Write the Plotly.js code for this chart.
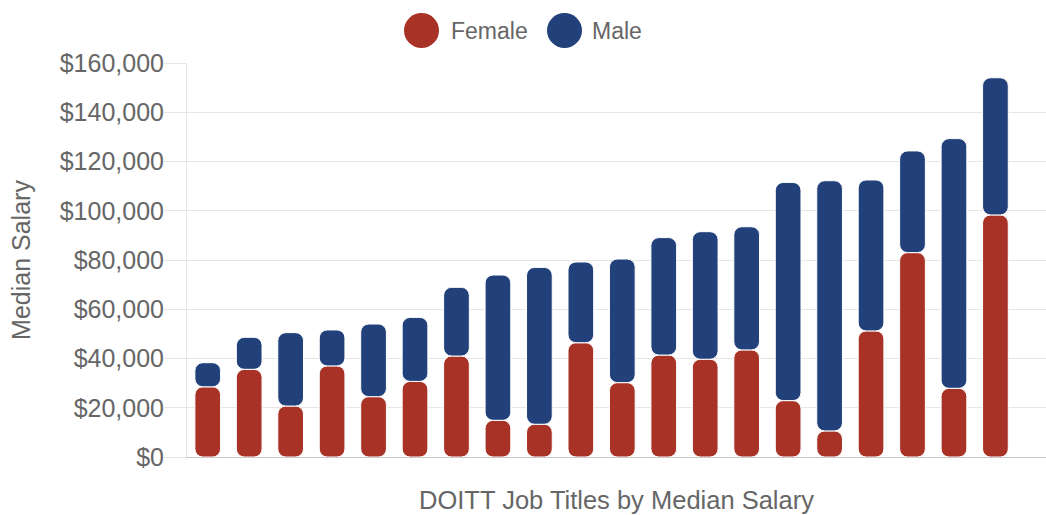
<!DOCTYPE html>
<html>
<head>
<meta charset="utf-8">
<script src="https://cdn.plot.ly/plotly-3.0.1.min.js"></script>
<style>
  html, body { margin: 0; padding: 0; background: #fff; }
  #chart { width: 1046px; height: 515px; }
</style>
</head>
<body>
<div id="chart"></div>
<script>
// Job title positions (titles are not shown on the chart)
const categories = [1, 2, 3, 4, 5, 6, 7, 8, 9, 10, 11, 12, 13, 14, 15, 16, 17, 18, 19, 20];
// Female segment (bottom of each stacked column)
const female = [28500, 35600, 20700, 37000, 24500, 30700, 41000, 14900, 13300, 46400,
                30200, 41400, 39700, 43500, 22900, 10600, 51200, 83000, 27900, 98300];
// Top of each stacked column (female + male segment)
const stackTop = [38300, 48600, 50500, 51600, 54000, 56700, 68900, 73900, 77000, 79200,
                  80400, 89100, 91500, 93500, 111500, 112200, 112500, 124300, 129300, 154000];
// Male segment = top - female
const male = stackTop.map((t, i) => t - female[i]);

const seriesNames = ['Female', 'Male'];
const seriesColors = ['#A83226', '#22417A'];
const yTicks = [0, 20000, 40000, 60000, 80000, 100000, 120000, 140000, 160000];

const FONT = '"Liberation Sans", Arial, Helvetica, sans-serif';
const GREY = '#666666';
const BAR_W = 0.62;
const RADIUS = 8;

function segment(bases, lengths, color, name) {
  return {
    type: 'bar', x: categories, width: BAR_W, name: name,
    base: bases, y: lengths,
    marker: { color: color, cornerradius: RADIUS, line: { width: 1, color: '#ffffff' } },
    hoverinfo: 'skip', showlegend: false
  };
}

const zeros = female.map(() => 0);
const data = [
  segment(zeros, female, seriesColors[0], seriesNames[0]),
  segment(female, male, seriesColors[1], seriesNames[1])
];

// Custom legend (big circles) at top centre
const PLOT_L = 187, PLOT_W = 1046 - 187, PLOT_T = 63, PLOT_H = 394;
const px2x = p => (p - PLOT_L) / PLOT_W;
const py2y = p => 1 + (PLOT_T - p) / PLOT_H;
const legendItems = [
  { cx: 421.5, tx: 449 },
  { cx: 564.5, tx: 590 }
];
const shapes = legendItems.map((it, i) => ({
  type: 'circle', xref: 'paper', yref: 'paper',
  xsizemode: 'pixel', ysizemode: 'pixel',
  xanchor: px2x(it.cx), yanchor: py2y(30.5),
  x0: -17.5, x1: 17.5, y0: -17.5, y1: 17.5,
  fillcolor: seriesColors[i], line: { width: 0 }
}));
const annotations = legendItems.map((it, i) => ({
  xref: 'paper', yref: 'paper', x: px2x(it.tx), y: py2y(31),
  xanchor: 'left', yanchor: 'middle', showarrow: false,
  text: seriesNames[i], font: { family: FONT, size: 23, color: GREY }
}));

const layout = {
  width: 1046, height: 515,
  margin: { l: PLOT_L, r: 0, t: PLOT_T, b: 515 - PLOT_T - PLOT_H, pad: 0 },
  paper_bgcolor: '#ffffff', plot_bgcolor: '#ffffff',
  barmode: 'overlay',
  showlegend: false,
  font: { family: FONT, color: GREY },
  xaxis: {
    type: 'linear',
    range: [0.5, 21.22],
    showticklabels: false, ticks: '',
    showgrid: false, zeroline: false,
    showline: true, linecolor: '#C8C8C8', linewidth: 1,
    title: { text: 'DOITT Job Titles by Median Salary', font: { family: FONT, size: 25.5, color: GREY }, standoff: 34 }
  },
  yaxis: {
    range: [0, 160000],
    tickvals: yTicks,
    tickformat: '$,.0f',
    tickfont: { family: FONT, size: 25, color: GREY },
    ticks: 'outside', ticklen: 22, tickcolor: '#E6E6E6', tickwidth: 1,
    ticklabelstandoff: -5,
    showgrid: true, gridcolor: '#E6E6E6', gridwidth: 1,
    zeroline: false,
    showline: true, linecolor: '#E6E6E6', linewidth: 1,
    title: { text: 'Median Salary', font: { family: FONT, size: 25, color: GREY }, standoff: 21 }
  },
  shapes: shapes,
  annotations: annotations
};

Plotly.newPlot('chart', data, layout, { displayModeBar: false, staticPlot: true });
</script>
</body>
</html>
